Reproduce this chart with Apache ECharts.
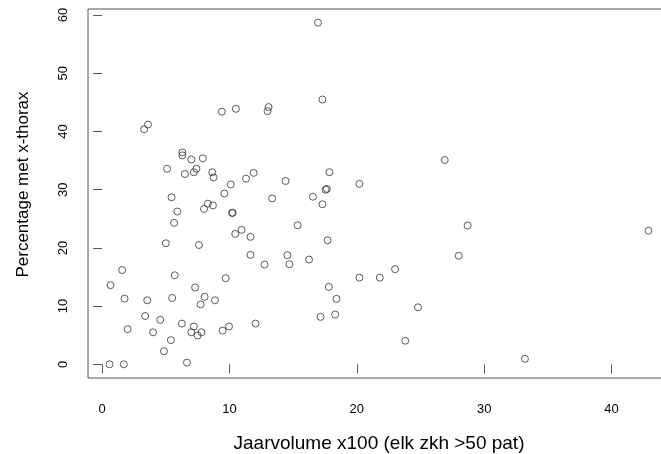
<!DOCTYPE html>
<html lang="nl">

<head>
    <meta charset="UTF-8">
    <title>Jaarvolume vs percentage x-thorax</title>
    <style>
        html, body {
            margin: 0;
            padding: 0;
            background: #fff;
        }
        #frame {
            width: 661px;
            height: 454px;
            overflow: hidden;
            position: relative;
        }
        /* breder dan het venster: de rechterrand van het kader valt buiten beeld */
        #chart {
            position: absolute;
            left: 0;
            top: 0;
            width: 680px;
            height: 454px;
        }
    </style>
</head>

<body>
    <div id="frame"><div id="chart"></div></div>
</body>
<script src="https://cdn.jsdelivr.net/npm/echarts@6/dist/echarts.min.js"></script>

<script>
    // jaarvolume x100 per ziekenhuis
    var volume = [
        3.3, 3.6, 9.4, 10.5, 13.07, 12.99, 6.3, 6.3, 7.0, 7.9,
        5.1, 6.5, 7.2, 7.4, 8.65, 8.75, 10.1, 9.6, 11.3, 11.9,
        5.45, 13.35, 8.3, 8.0, 8.7, 5.9, 10.2, 10.25, 5.65, 10.95,
        10.45, 11.65, 5.0, 7.6, 11.65, 12.75, 1.57, 5.7, 0.66, 9.7,
        7.3, 1.76, 3.54, 5.5, 8.05, 7.73, 8.86, 3.38, 4.56, 6.26,
        12.05, 2.0, 7.2, 7.0, 7.5, 7.8, 9.96, 9.46, 4.0, 5.4,
        4.85, 0.58, 1.7, 6.66, 16.95, 17.3, 26.9, 17.85, 14.4, 20.2,
        17.55, 17.65, 16.55, 17.3, 15.35, 28.7, 17.7, 14.55, 14.7, 16.25,
        28.0, 20.2, 21.8, 23.0, 17.8, 18.4, 24.8, 17.15, 18.3, 23.8,
        42.9, 33.2
    ];
    // percentage met x-thorax, zelfde volgorde
    var percentage = [
        40.4, 41.2, 43.4, 43.9, 44.2, 43.5, 36.4, 35.9, 35.2, 35.4,
        33.6, 32.7, 33.0, 33.6, 33.0, 32.1, 30.9, 29.35, 31.9, 32.9,
        28.7, 28.5, 27.6, 26.7, 27.3, 26.25, 26.0, 26.05, 24.3, 23.1,
        22.4, 21.9, 20.8, 20.5, 18.8, 17.15, 16.2, 15.3, 13.6, 14.8,
        13.2, 11.3, 11.0, 11.4, 11.6, 10.3, 11.0, 8.3, 7.65, 7.0,
        7.0, 6.05, 6.5, 5.5, 4.95, 5.5, 6.5, 5.8, 5.5, 4.15,
        2.26, 0, 0, 0.3, 58.7, 45.5, 35.1, 33.0, 31.5, 31.0,
        30.0, 30.15, 28.8, 27.5, 23.9, 23.85, 21.3, 18.75, 17.2, 18.0,
        18.65, 14.9, 14.9, 16.35, 13.3, 11.25, 9.8, 8.15, 8.55, 4.05,
        22.95, 0.95
    ];
    var xTicks = [0, 10, 20, 30, 40];
    var yTicks = [0, 10, 20, 30, 40, 50, 60];

    var points = volume.map(function (v, i) {
        return [v, percentage[i]];
    });

    var font = 'Liberation Sans, Arial, Helvetica, sans-serif';
    var chart = echarts.init(document.getElementById('chart'), null, { renderer: 'canvas' });

    var option = {
        backgroundColor: '#fff',
        animation: false,
        grid: {
            left: 88,
            top: 9,
            right: 10,
            bottom: 76,
            outerBoundsMode: 'none', // grid niet laten krimpen voor de namen
            show: true,
            borderColor: '#555',
            borderWidth: 1
        },
        xAxis: {
            type: 'value',
            min: -1.11, // R breidt het bereik 4% uit
            max: 44.59,
            name: 'Jaarvolume x100 (elk zkh >50 pat)',
            nameLocation: 'middle',
            nameGap: 56,
            nameTextStyle: { color: '#000', fontSize: 19, fontFamily: font },
            axisLine: { show: false },
            splitLine: { show: false },
            axisTick: {
                show: true,
                customValues: xTicks,
                length: 9,
                lineStyle: { color: '#555' }
            },
            axisLabel: {
                customValues: xTicks,
                margin: 25,
                color: '#000',
                fontSize: 13,
                fontFamily: font
            }
        },
        yAxis: {
            type: 'value',
            min: -2.35,
            max: 61.05,
            name: 'Percentage met x-thorax',
            nameLocation: 'middle',
            nameGap: 56,
            nameRotate: 90,
            nameTextStyle: {
                color: '#000',
                fontSize: 17,
                fontFamily: font,
                padding: [0, 0, 0, 18] // iets naar boven, zoals in R
            },
            axisLine: { show: false },
            splitLine: { show: false },
            axisTick: {
                show: true,
                customValues: yTicks,
                length: 9,
                lineStyle: { color: '#555' }
            },
            axisLabel: {
                customValues: yTicks,
                rotate: 90,
                margin: 18,
                color: '#000',
                fontSize: 13,
                fontFamily: font
            }
        },
        series: [
            {
                type: 'scatter',
                data: points,
                symbol: 'circle',
                symbolSize: 7,
                itemStyle: {
                    color: 'rgba(0,0,0,0)',
                    borderColor: '#333',
                    borderWidth: 1
                }
            }
        ]
    };

    chart.setOption(option);
</script>

</html>
